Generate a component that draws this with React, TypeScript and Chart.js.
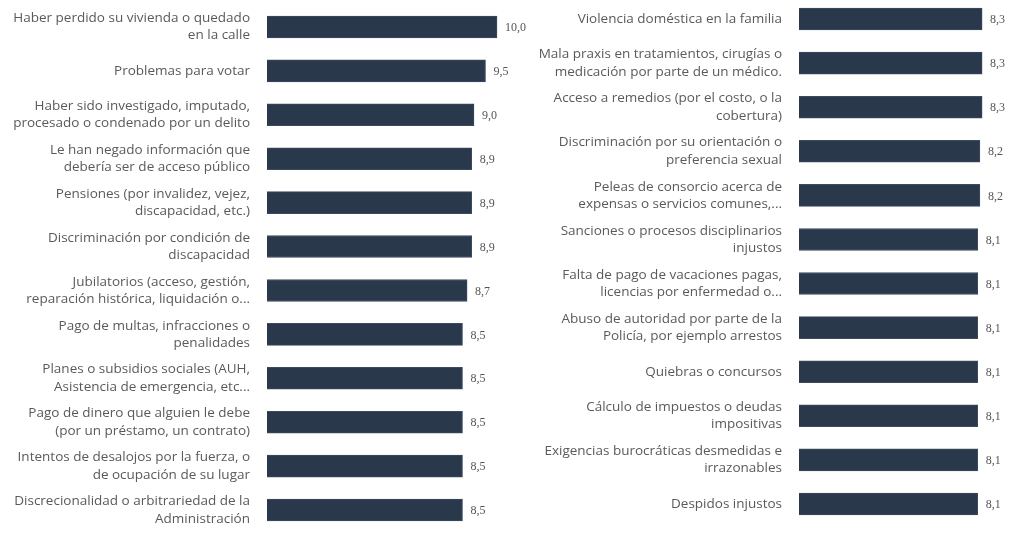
import React, { useEffect, useRef } from "react";
import { Chart, registerables } from "chart.js";

Chart.register(...registerables);

const leftCategories: (string | string[])[] = [
  ["Haber perdido su vivienda o quedado", "en la calle"],
  "Problemas para votar",
  ["Haber sido investigado, imputado,", "procesado o condenado por un delito"],
  ["Le han negado información que", "debería ser de acceso público"],
  ["Pensiones (por invalidez, vejez,", "discapacidad, etc.)"],
  ["Discriminación por condición de", "discapacidad"],
  ["Jubilatorios (acceso, gestión,", "reparación histórica, liquidación o..."],
  ["Pago de multas, infracciones o", "penalidades"],
  ["Planes o subsidios sociales (AUH,", "Asistencia de emergencia, etc..."],
  ["Pago de dinero que alguien le debe", "(por un préstamo, un contrato)"],
  ["Intentos de desalojos por la fuerza, o", "de ocupación de su lugar"],
  ["Discrecionalidad o arbitrariedad de la", "Administración"],
];
const leftValues: number[] = [10.0, 9.5, 9.0, 8.9, 8.9, 8.9, 8.7, 8.5, 8.5, 8.5, 8.5, 8.5];

const rightCategories: (string | string[])[] = [
  "Violencia doméstica en la familia",
  ["Mala praxis en tratamientos, cirugías o", "medicación por parte de un médico."],
  ["Acceso a remedios (por el costo, o la", "cobertura)"],
  ["Discriminación por su orientación o", "preferencia sexual"],
  ["Peleas de consorcio acerca de", "expensas o servicios comunes,..."],
  ["Sanciones o procesos disciplinarios", "injustos"],
  ["Falta de pago de vacaciones pagas,", "licencias por enfermedad o..."],
  ["Abuso de autoridad por parte de la", "Policía, por ejemplo arrestos"],
  "Quiebras o concursos",
  ["Cálculo de impuestos o deudas", "impositivas"],
  ["Exigencias burocráticas desmedidas e", "irrazonables"],
  "Despidos injustos",
];
const rightValues: number[] = [8.3, 8.3, 8.3, 8.2, 8.2, 8.1, 8.1, 8.1, 8.1, 8.1, 8.1, 8.1];

const BAR_COLOR = "#2a384c";

const valueLabelPlugin = {
  id: "valueLabels",
  afterDatasetsDraw(chart: any) {
    const ctx = chart.ctx;
    const meta = chart.getDatasetMeta(0);
    const data = chart.data.datasets[0].data as number[];
    ctx.save();
    ctx.font = "12px 'Liberation Serif'";
    ctx.fillStyle = "#555";
    ctx.textAlign = "left";
    ctx.textBaseline = "middle";
    meta.data.forEach((bar: any, i: number) => {
      const txt = data[i].toFixed(1).replace(".", ",");
      ctx.fillText(txt, bar.x + 8, bar.y + 1);
    });
    ctx.restore();
  },
};

function BarPanel(props: {
  labels: (string | string[])[];
  values: number[];
  max: number;
  axisWidth: number;
  plotWidth: number;
  padding: { top: number; bottom: number };
  style: React.CSSProperties;
}) {
  const ref = useRef<HTMLCanvasElement | null>(null);
  useEffect(() => {
    if (!ref.current) return;
    const w = props.style.width as number;
    const chart = new Chart(ref.current, {
      type: "bar",
      data: {
        labels: props.labels,
        datasets: [
          {
            data: props.values,
            backgroundColor: BAR_COLOR,
            borderColor: "#3c4b5f",
            borderWidth: 1,
            barThickness: 22,
          },
        ],
      },
      options: {
        indexAxis: "y",
        animation: false,
        responsive: false,
        maintainAspectRatio: false,
        layout: {
          padding: {
            left: 0,
            right: w - props.axisWidth - props.plotWidth,
            top: props.padding.top,
            bottom: props.padding.bottom,
          },
        },
        plugins: { legend: { display: false }, tooltip: { enabled: false } },
        scales: {
          x: { display: false, min: 0, max: props.max },
          y: {
            afterFit: (scale: any) => {
              scale.width = props.axisWidth;
              scale.paddingTop = 0;
              scale.paddingBottom = 0;
            },
            grid: { display: false, drawTicks: false },
            border: { display: false },
            ticks: {
              autoSkip: false,
              padding: 17,
              color: "#5a5a5a",
              font: { family: "'Open Sans'", size: 13.5, lineHeight: 1.28 },
            },
          },
        },
      },
      plugins: [valueLabelPlugin],
    });
    return () => chart.destroy();
  }, []);
  return (
    <canvas
      ref={ref}
      width={props.style.width as number}
      height={props.style.height as number}
      style={props.style}
    />
  );
}

export default function App() {
  return (
    <div
      style={{
        position: "fixed",
        left: 0,
        top: 0,
        width: 1013,
        height: 548,
        overflow: "hidden",
        background: "#fff",
      }}
    >
      <BarPanel
        labels={leftCategories}
        values={leftValues}
        max={11}
        axisWidth={267}
        plotWidth={253}
        padding={{ top: 5, bottom: 16 }}
        style={{ position: "absolute", left: 0, top: 0, width: 545, height: 548 }}
      />
      <BarPanel
        labels={rightCategories}
        values={rightValues}
        max={9.7}
        axisWidth={289}
        plotWidth={214}
        padding={{ top: 1, bottom: 18 }}
        style={{ position: "absolute", left: 510, top: -4, width: 503, height: 548 }}
      />
    </div>
  );
}
